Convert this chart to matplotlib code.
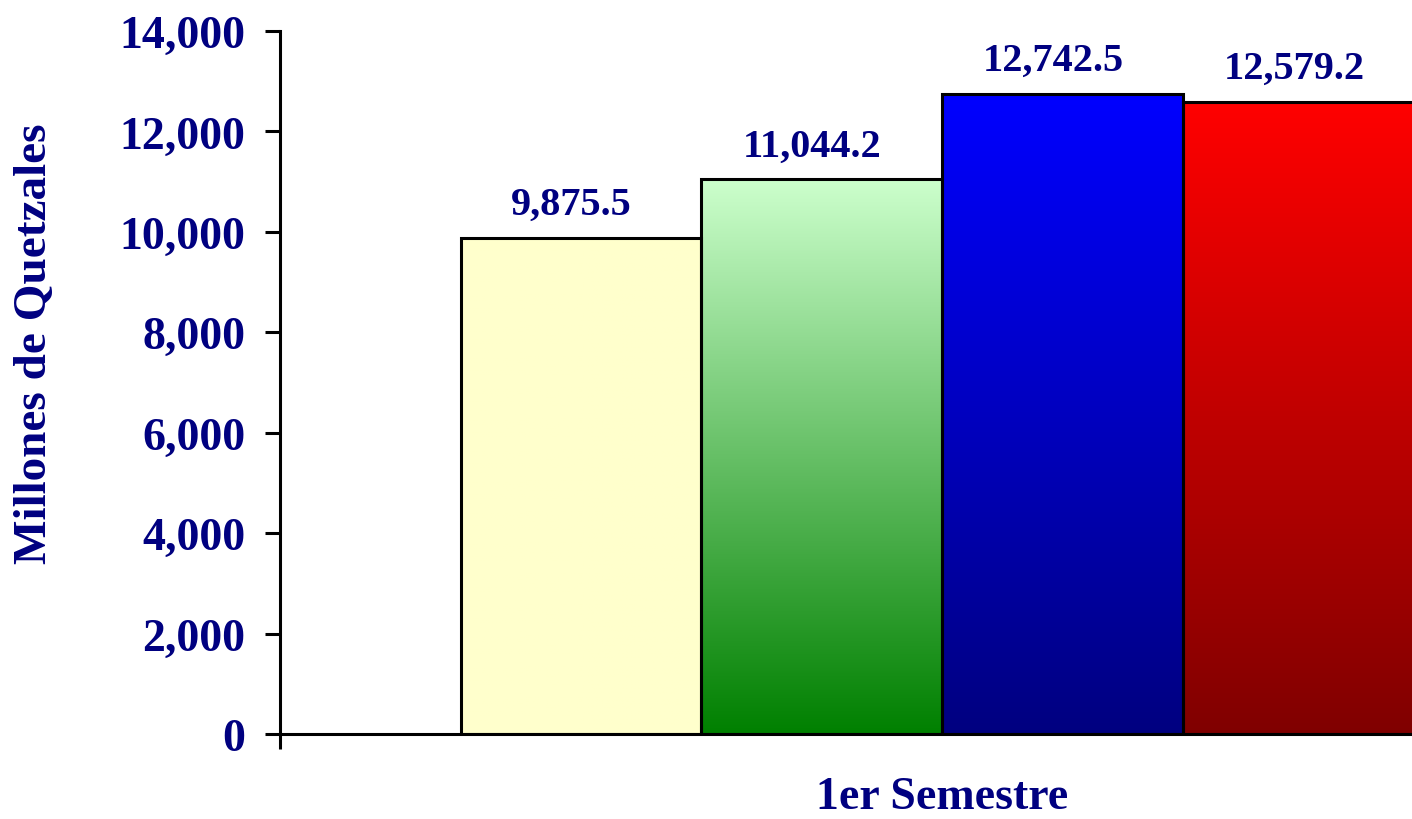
import numpy as np
import matplotlib
matplotlib.use("Agg")
import matplotlib.pyplot as plt
import matplotlib.transforms as mtransforms
from matplotlib.colors import LinearSegmentedColormap

# datos
valores = [9875.5, 11044.2, 12742.5, 12579.2]
color_arriba = ["#FFFFCC", "#CCFFCC", "#0000FF", "#FF0000"]
color_abajo = ["#FFFFCC", "#008000", "#000080", "#800000"]
categoria = "1er Semestre"
y_ticks = [0, 2000, 4000, 6000, 8000, 10000, 12000, 14000]

azul = "#000080"
plt.rcParams["font.family"] = ["Liberation Serif", "DejaVu Serif"]
plt.rcParams["font.weight"] = "bold"

fig = plt.figure(figsize=(14.12, 8.2), dpi=100)
ax = fig.add_axes([280 / 1412, 1 - 735 / 820, 1 - 280 / 1412, (735 - 32) / 820])

xs = np.arange(len(valores))
barras = ax.bar(xs, valores, width=1.0, align="edge", color="none",
                edgecolor="black", linewidth=2.2, zorder=3)

# relleno degradado de cada barra
grad = np.linspace(0, 1, 256).reshape(-1, 1)
for b, c1, c2 in zip(barras, color_arriba, color_abajo):
    cmap = LinearSegmentedColormap.from_list("g", [c2, c1])
    x0, w, h = b.get_x(), b.get_width(), b.get_height()
    im = ax.imshow(grad, cmap=cmap, origin="lower", aspect="auto",
                   extent=(x0, x0 + w, 0, h), zorder=2)
    im.set_clip_path(b)

for b, v in zip(barras, valores):
    ax.text(b.get_x() + b.get_width() / 2 - 0.04, v + 300, f"{v:,.1f}",
            ha="center", va="bottom", fontsize=29, color=azul, fontweight="bold")

ax.set_xlim(-0.75, 3.95)
ax.set_ylim(0, 14000)
ax.set_yticks(y_ticks)
ax.set_yticklabels([f"{t:,}" for t in y_ticks], fontsize=33, color=azul, fontweight="bold")
ax.tick_params(axis="y", direction="out", length=11, width=2.2, pad=14)

ax.set_xticks([])
ax.set_xticks([-0.75], minor=True)
ax.tick_params(axis="x", which="minor", direction="out", length=11, width=2.2, labelbottom=False)

# etiqueta de la categoría centrada bajo el grupo de barras
trans = mtransforms.blended_transform_factory(ax.transData, fig.transFigure)
ax.text(2.0, 1 - 798 / 820, categoria, transform=trans, ha="center", va="center",
        fontsize=33, color=azul, fontweight="bold")

ax.set_ylabel("Millones de Quetzales", fontsize=34, color=azul, fontweight="bold")
ax.yaxis.set_label_coords(-0.198, 0.556)

for s in ["top", "right"]:
    ax.spines[s].set_visible(False)
ax.spines["left"].set_linewidth(2.2)
ax.spines["bottom"].set_linewidth(2.2)

fig.savefig("out.png", dpi=100)
